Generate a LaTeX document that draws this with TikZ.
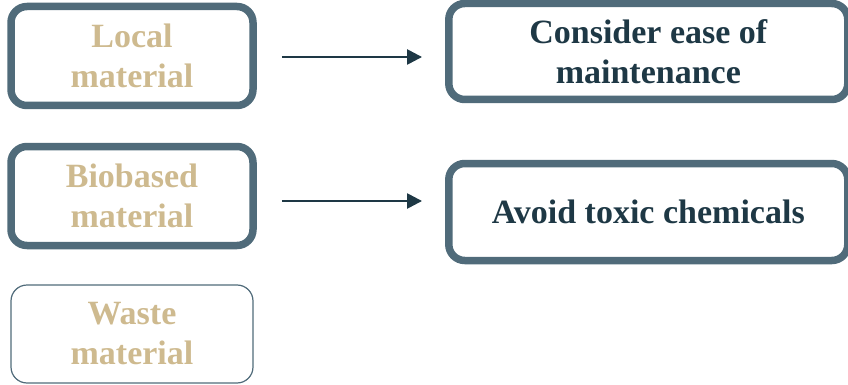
\documentclass[tikz,border=0pt]{standalone}
\usepackage{fontspec}
\setmainfont{Liberation Serif}
\usetikzlibrary{arrows.meta}
\definecolor{slate}{RGB}{80,107,122}
\definecolor{sand}{RGB}{206,186,143}
\definecolor{ink}{RGB}{30,56,69}

\begin{document}
\begin{tikzpicture}[x=1pt, y=-1pt,
	box/.style={draw=slate, line width=7.5pt, rounded corners=16pt, align=center,
		inner sep=0pt, font=\bfseries\fontsize{34}{40}\selectfont},
	src/.style={box, text=sand, minimum width=242pt, minimum height=99pt},
	goal/.style={box, text=ink, minimum width=399pt, minimum height=96pt},
	link/.style={ink, line width=2.5pt, -{Triangle[length=15pt, width=15pt]}}]
	\useasboundingbox (0, 0) rectangle (848, 385);
		\node[src] (local) at (132, 56) {Local\\material};
		\node[src] (bio) at (132, 196) {Biobased\\material};
		\node[src, line width=1.2pt, minimum height=98pt] (waste) at (132, 334) {Waste\\material}; %thin border
		\node[goal] (ease) at (648.3, 51.5) {Consider ease of\\maintenance};
		\node[goal, minimum height=97pt] (toxic) at (648.3, 212) {Avoid toxic chemicals};
		\draw[link] ([shift={(25, 1)}]local.east) -- ([shift={(-23, 1)}]local.east -| ease.west);
		\draw[link] ([shift={(25, 5)}]bio.east) -- ([shift={(-23, 5)}]bio.east -| toxic.west);
\end{tikzpicture}
\end{document}
